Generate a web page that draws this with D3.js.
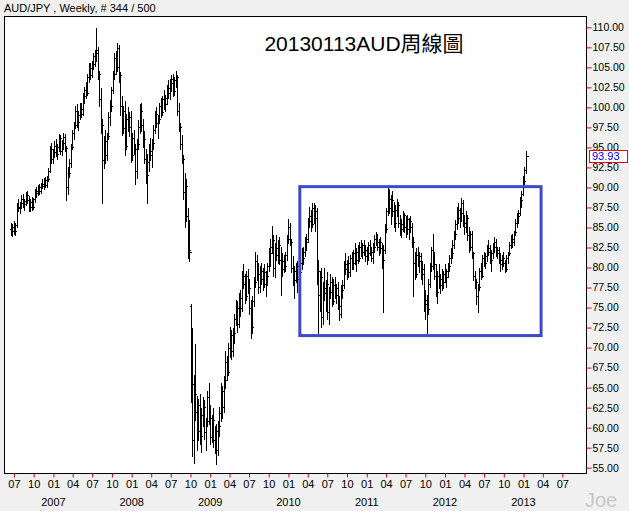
<!DOCTYPE html>
<html><head><meta charset="utf-8">
<script src="https://cdn.jsdelivr.net/npm/d3@7"></script>
<style>
html,body{margin:0;padding:0;background:#f0f0f0;}
svg{display:block;}
</style></head><body>
<svg id="chart" width="629" height="511"></svg>
<script>
// ---------- data ----------
const symbolLabel = "AUD/JPY , Weekly, # 344 / 500";
const titleText = "20130113AUD周線圖";
const watermark = "Joe";
const firstWeek = "2006-06-16";   // one bar per week from here
const closes = [
84.6,85.0,84.5,85.3,87.6,87.4,88.0,88.6,87.9,88.3,89.0,88.4,87.5,88.2,87.6,88.5,89.5,89.3,90.0,89.6,
90.4,90.2,90.9,90.3,91.1,92.1,94.8,93.6,94.4,95.2,94.2,95.0,96.2,94.6,95.5,96.3,94.9,90.0,91.8,93.0,
95.0,96.8,97.8,99.6,98.2,99.1,99.8,99.2,101.4,102.2,101.8,103.8,104.9,104.0,105.4,106.4,106.8,107.2,104.2,101.0,
97.8,93.4,95.8,94.0,96.4,98.8,100.2,102.2,104.2,106.2,105.0,107.4,104.0,100.2,97.4,99.6,95.2,98.6,97.6,98.8,
94.0,96.2,94.8,92.0,95.4,97.6,99.6,97.8,96.0,93.6,91.6,93.2,94.6,94.0,95.6,97.2,99.2,98.0,98.6,100.2,
99.4,101.0,100.4,101.2,102.4,101.8,103.0,103.6,102.0,103.4,103.8,99.6,97.6,95.4,93.6,89.4,90.2,86.4,82.2,82.0,
65.4,58.4,64.2,62.0,59.6,62.8,59.0,61.6,62.6,59.4,60.8,63.8,61.2,58.8,61.0,58.4,59.6,57.2,60.2,61.8,
64.6,62.6,66.0,68.2,67.0,70.0,71.6,69.6,71.8,73.6,75.0,73.0,76.2,75.0,79.0,78.0,76.4,79.0,77.4,75.0,
72.6,75.8,78.2,80.8,79.2,77.6,79.6,78.6,79.4,78.0,79.0,80.2,81.8,82.6,83.4,80.0,82.4,81.6,82.8,81.0,
79.8,80.8,80.2,81.6,83.6,85.0,83.2,80.0,78.4,79.6,80.2,78.6,79.4,80.6,81.2,82.0,83.2,83.6,85.8,86.4,
85.4,87.4,86.2,87.0,79.6,76.6,78.8,73.8,77.4,76.8,78.0,74.4,77.0,78.2,75.8,77.8,76.6,77.4,75.2,74.2,
77.2,77.8,80.4,79.8,80.6,79.4,81.2,80.6,81.8,81.0,82.0,81.2,82.6,82.0,82.8,82.2,81.4,81.8,82.8,82.0,
81.2,82.6,83.6,83.2,82.6,83.2,82.4,81.0,82.2,84.8,87.0,88.6,87.4,88.4,87.0,85.6,87.2,87.8,85.6,84.8,
85.4,86.6,85.0,86.0,84.8,85.8,85.0,83.2,80.6,79.2,81.6,80.8,81.4,79.2,79.8,75.4,76.0,74.8,78.0,80.2,
82.2,80.4,79.0,77.0,79.0,77.8,78.6,78.2,79.2,78.8,79.6,80.2,81.2,81.8,82.8,84.2,85.4,87.2,86.2,86.8,
88.0,85.6,85.0,86.2,84.0,82.6,84.2,81.8,79.0,78.2,76.4,77.6,79.6,79.0,81.2,80.6,81.4,82.4,82.0,81.0,
81.8,82.6,83.2,81.8,82.2,81.0,80.4,81.2,80.6,79.8,81.2,81.8,82.8,83.6,83.2,84.4,85.6,86.4,86.8,88.4,
89.2,90.8,92.2,93.93];
const highs = [
85.6,85.4,85.8,85.6,88.0,88.5,88.2,89.0,89.2,88.6,89.4,89.5,88.9,88.6,88.8,88.7,89.8,90.0,90.3,90.4,
90.6,91.0,91.2,91.3,91.4,92.4,95.2,95.6,94.8,95.8,96.0,95.4,96.7,96.6,95.9,96.8,96.7,95.2,92.5,93.5,
95.4,97.2,98.2,100.2,100.4,99.6,100.5,100.6,101.8,102.6,103.2,104.2,105.5,105.6,105.8,106.8,107.2,109.9,107.6,104.6,
102.4,98.6,96.4,97.2,96.8,99.4,100.9,102.6,104.6,106.8,107.0,108.0,107.8,104.4,101.4,100.2,100.8,99.2,100.0,99.4,
99.6,96.8,97.2,95.4,96.0,98.4,100.4,100.6,98.6,97.0,94.8,94.2,95.4,96.2,96.0,97.8,99.6,100.0,99.0,100.6,
101.2,101.4,102.2,101.6,102.8,103.4,103.6,104.0,104.2,103.8,104.5,104.0,100.6,98.0,96.6,94.0,91.8,91.0,87.4,85.9,
75.5,72.5,66.6,70.5,64.0,63.6,64.2,62.4,63.8,63.4,61.2,64.6,65.6,62.8,61.6,62.4,60.2,60.4,60.8,62.6,
65.6,65.2,66.4,69.6,69.0,70.6,72.6,72.2,72.4,74.2,75.9,75.8,76.8,77.2,79.6,80.5,79.2,79.6,79.8,78.6,
76.0,76.4,78.8,81.9,81.6,80.6,80.2,80.6,80.0,80.4,79.6,80.6,82.4,83.6,85.2,84.0,83.0,84.0,83.4,83.8,
82.6,81.8,81.6,82.0,84.0,86.1,85.6,83.6,81.4,80.2,80.6,80.8,80.0,81.0,82.4,82.6,83.8,84.2,86.2,87.6,
87.2,88.0,88.0,87.8,87.4,81.0,79.6,80.0,78.2,80.0,78.4,79.4,77.6,79.2,78.8,78.6,78.8,78.0,78.2,76.4,
77.8,78.4,80.8,81.8,81.0,81.4,81.6,82.0,82.2,83.0,82.4,82.8,83.2,83.4,83.0,83.4,82.8,82.6,83.2,83.4,
82.6,83.0,84.0,84.4,84.2,83.6,83.8,83.0,82.8,85.4,87.4,90.0,89.8,89.0,89.6,88.2,87.8,88.6,88.2,86.6,
86.0,87.0,86.8,86.4,86.6,86.2,86.4,85.6,83.8,82.0,82.4,82.6,82.0,81.8,80.8,80.4,77.2,76.6,78.6,80.6,
82.6,84.2,82.0,80.4,79.6,80.4,79.2,79.8,79.6,80.4,79.8,80.6,81.6,82.4,83.4,84.6,85.9,87.6,88.0,87.4,
88.7,88.4,86.6,87.0,86.6,85.0,84.6,84.6,82.0,79.6,78.6,78.0,80.0,80.6,81.6,82.0,81.8,82.8,83.4,82.8,
82.2,83.0,83.8,83.6,82.6,82.6,81.8,81.6,82.0,81.0,81.6,82.0,83.2,84.0,84.2,84.6,86.0,86.8,87.2,88.8,
89.6,91.4,92.6,94.6];
const lows = [
84.0,83.9,84.2,84.0,85.0,87.0,86.8,87.4,87.6,87.2,87.8,88.0,87.1,87.0,87.2,87.3,88.2,88.8,89.0,89.2,
89.3,89.9,89.8,90.0,90.1,90.8,91.9,93.0,93.0,93.8,93.9,93.5,94.6,94.2,94.0,94.8,94.5,88.4,89.2,91.3,
92.6,94.8,96.0,97.4,97.6,97.2,98.6,98.8,99.0,100.6,101.2,101.5,103.2,103.6,103.8,104.8,105.2,105.8,103.6,100.2,
96.8,88.0,92.4,93.0,93.4,96.0,97.8,99.6,101.8,103.6,104.2,104.6,103.2,99.0,96.6,96.8,94.0,94.8,97.0,96.4,
93.2,93.4,94.2,90.4,91.2,94.8,96.8,97.0,95.0,93.0,90.6,88.0,92.0,93.4,92.6,94.8,96.8,97.6,96.2,98.0,
98.8,99.0,99.8,99.6,100.4,101.2,101.0,102.0,101.4,101.6,102.6,99.0,97.0,94.8,93.0,88.6,85.0,85.8,81.2,80.8,
63.2,56.4,55.6,61.0,57.2,58.4,58.0,57.0,60.2,58.6,57.2,60.2,60.4,58.0,58.2,57.6,56.8,55.5,56.6,59.0,
60.8,61.2,62.0,65.0,66.0,66.6,68.8,68.6,69.0,70.6,72.8,72.0,72.6,74.0,74.6,77.4,75.6,76.0,76.8,74.2,
71.2,71.8,75.2,77.6,78.4,76.8,77.0,78.0,77.2,77.6,76.4,77.8,79.6,80.2,81.8,79.0,78.8,81.0,80.6,80.4,
76.6,79.0,79.4,79.6,81.0,83.0,82.8,79.4,77.8,76.2,78.2,77.0,77.4,78.8,79.8,80.4,81.4,82.2,83.2,85.0,
84.6,85.0,85.6,84.6,78.0,71.8,74.6,72.6,73.0,76.0,74.6,73.6,73.0,76.2,75.2,75.4,76.2,75.6,74.8,73.4,
73.8,76.2,77.4,79.2,78.6,78.8,79.0,79.8,79.8,80.4,79.6,80.6,80.8,81.4,81.2,81.6,80.8,80.4,81.0,81.6,
80.8,80.6,82.0,82.8,82.2,81.6,81.8,80.0,74.4,81.8,84.4,86.6,86.8,85.4,86.4,85.0,84.6,86.4,85.0,84.0,
83.8,84.6,84.4,83.8,84.2,83.6,84.4,82.6,76.4,78.6,78.8,80.2,79.4,78.6,78.0,74.6,73.6,71.8,74.2,77.6,
79.6,79.8,78.6,76.4,75.6,77.4,76.8,77.2,77.4,78.2,77.6,78.8,79.6,80.6,81.2,82.4,83.6,84.8,85.6,85.0,
85.8,85.2,84.2,84.4,83.4,82.0,82.2,81.2,78.4,77.4,75.4,74.4,77.2,78.6,78.8,80.2,80.0,80.8,81.6,80.6,
79.6,81.2,82.0,81.4,81.2,80.6,79.6,79.8,80.2,79.4,79.6,80.6,81.6,82.4,82.6,82.8,84.0,85.0,85.6,86.6,
87.6,89.0,90.4,91.8];
// weekly FX bars open at the prior week's close, except these weeks
const openOverrides = {0: 84.8, 120: 75.2};
const lastPrice = 93.93;
const priceTicks = [55,57.5,60,62.5,65,67.5,70,72.5,75,77.5,80,82.5,85,87.5,90,92.5,95,97.5,100,102.5,105,107.5,110];
const monthTicks = ["2006-07","2006-10","2007-01","2007-04","2007-07","2007-10","2008-01","2008-04","2008-07","2008-10",
  "2009-01","2009-04","2009-07","2009-10","2010-01","2010-04","2010-07","2010-10","2011-01","2011-04","2011-07","2011-10",
  "2012-01","2012-04","2012-07","2012-10","2013-01","2013-04","2013-07"];
const yearLabels = ["2007","2008","2009","2010","2011","2012","2013"];
const annotationBox = {from: "2010-02-23", to: "2013-03-24", top: 90.1, bottom: 71.5};

// ---------- layout ----------
const W = 629, H = 511;
const plot = {left: 4, right: 586, top: 16, bottom: 473};
const svg = d3.select("#chart");
const parseDay = d3.utcParse("%Y-%m-%d");
const parseMonth = d3.utcParse("%Y-%m");

const x = d3.scaleUtc()
  .domain([parseMonth("2007-01"), parseMonth("2013-01")])
  .range([53.4, 523.5]);
const y = d3.scaleLinear().domain([55, 110]).range([467.7, 27.3]);

const start = parseDay(firstWeek);
const bars = closes.map((c, i) => ({
  date: d3.utcDay.offset(start, 7 * i),
  o: openOverrides[i] !== undefined ? openOverrides[i] : closes[i - 1],
  h: highs[i], l: lows[i], c: c
}));

svg.append("rect").attr("width", W).attr("height", H).attr("fill", "#f0f0f0");

// header
svg.append("text").attr("x", 4).attr("y", 12)
  .attr("font-family", "Liberation Sans, Arial, sans-serif").attr("font-size", 11)
  .attr("fill", "#000").text(symbolLabel);

// plot frame
svg.append("rect")
  .attr("x", plot.left + 0.5).attr("y", plot.top + 0.5)
  .attr("width", plot.right - plot.left).attr("height", plot.bottom - plot.top)
  .attr("fill", "#fff").attr("stroke", "#000").attr("stroke-width", 1);

// bars
const gBars = svg.append("g").attr("stroke", "#000").attr("stroke-width", 1)
  .attr("shape-rendering", "crispEdges");
bars.forEach(b => {
  const cx = Math.round(x(b.date)) + 0.5;
  gBars.append("line").attr("x1", cx).attr("x2", cx).attr("y1", y(b.h)).attr("y2", y(b.l) + 1);
  const yo = Math.round(y(b.o)) + 0.5, yc = Math.round(y(b.c)) + 0.5;
  gBars.append("line").attr("x1", cx - 2).attr("x2", cx).attr("y1", yo).attr("y2", yo);
  gBars.append("line").attr("x1", cx).attr("x2", cx + 2).attr("y1", yc).attr("y2", yc);
});

// title
svg.append("text").attr("x", 364).attr("y", 51).attr("text-anchor", "middle")
  .attr("font-family", "Liberation Sans, 'Noto Sans CJK TC', sans-serif").attr("font-size", 21)
  .attr("fill", "#000").text(titleText);

// annotation box
const bx0 = x(parseDay(annotationBox.from)), bx1 = x(parseDay(annotationBox.to));
const by0 = y(annotationBox.top), by1 = y(annotationBox.bottom);
svg.append("rect").attr("x", bx0).attr("y", by0).attr("width", bx1 - bx0).attr("height", by1 - by0)
  .attr("fill", "none").attr("stroke", "#3f48cc").attr("stroke-width", 3);

// right axis
const yAxis = d3.axisRight(y).tickValues(priceTicks).tickFormat(d3.format(".2f"))
  .tickSize(5).tickPadding(1);
const gy = svg.append("g").attr("transform", `translate(${plot.right + 0.5},0)`).call(yAxis);
gy.select(".domain").remove();
gy.selectAll(".tick line").attr("stroke", "#e00000");
gy.selectAll(".tick text").attr("fill", "#000").attr("font-size", 10.5)
  .attr("font-family", "Liberation Sans, Arial, sans-serif");

// last price box
const ly = y(lastPrice);
svg.append("rect").attr("x", 589.5).attr("y", Math.round(ly) - 5.5).attr("width", 38).attr("height", 12)
  .attr("fill", "#fff").attr("stroke", "#ff0000").attr("stroke-width", 1);
svg.append("text").attr("x", 592).attr("y", ly).attr("dy", "0.36em")
  .attr("font-family", "Liberation Sans, Arial, sans-serif").attr("font-size", 11)
  .attr("fill", "#0000ff").text(d3.format(".2f")(lastPrice));

// bottom axis
const xAxis = d3.axisBottom(x).tickValues(monthTicks.map(parseMonth))
  .tickFormat(d3.utcFormat("%m")).tickSize(4).tickPadding(3);
const gx = svg.append("g").attr("transform", `translate(0,${plot.bottom + 0.5})`).call(xAxis);
gx.select(".domain").remove();
gx.selectAll(".tick line").attr("stroke", "#e00000");
gx.selectAll(".tick text").attr("fill", "#000").attr("font-size", 11)
  .attr("font-family", "Liberation Sans, Arial, sans-serif");

svg.append("g").selectAll("text").data(yearLabels).join("text")
  .attr("x", d => x(parseMonth(d + "-01"))).attr("y", 506).attr("text-anchor", "middle")
  .attr("font-family", "Liberation Sans, Arial, sans-serif").attr("font-size", 11)
  .attr("fill", "#000").text(d => d);

// watermark
svg.append("text").attr("x", 601).attr("y", 507).attr("text-anchor", "middle")
  .attr("font-family", "Liberation Sans, Arial, sans-serif").attr("font-size", 20)
  .attr("fill", "#c8c8c8").text(watermark);
</script>
</body></html>
